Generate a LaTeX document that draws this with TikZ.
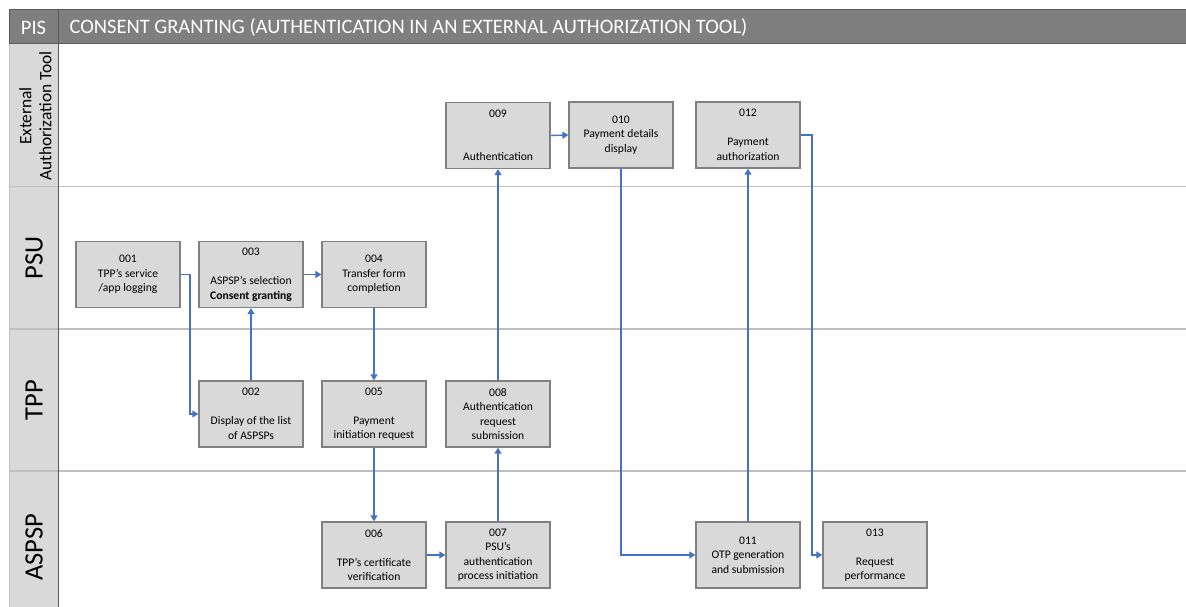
\documentclass[tikz,border=0pt]{standalone}
\usepackage{fontspec}
\setmainfont{Carlito}
\usetikzlibrary{arrows.meta}
\definecolor{hdr}{HTML}{7F7F7F}
\definecolor{hdrline}{HTML}{595959}
\definecolor{lanefill}{HTML}{D9D9D9}
\definecolor{laneline}{HTML}{BFBFBF}
\definecolor{boxfill}{HTML}{D9D9D9}
\definecolor{boxline}{HTML}{808080}
\definecolor{flow}{HTML}{4472C4}
\tikzset{
  stepbox/.style={draw=boxline, fill=boxfill, line width=1.3pt, minimum width=104pt, minimum height=66pt,
    inner sep=1pt, align=center, font=\fontsize{11.6}{14.5}\selectfont},
  flowarrow/.style={draw=flow, line width=1.4pt, -{Triangle[width=7pt,length=6pt]}},
  lanelabel/.style={rotate=90, font=\fontsize{26.5}{28}\selectfont},
  hdrtext/.style={text=white, font=\fontsize{20.5}{22}\selectfont}
}
\begin{document}
\begin{tikzpicture}[x=1pt, y=-1pt]
\useasboundingbox (0,0) rectangle (1186,607);
% header
\fill[hdr] (9,10) rectangle (1186,44);
\draw[hdrline, line width=1pt] (1186,10) -- (9,10) -- (9,44) -- (1186,44);
\draw[hdrline, line width=1pt] (58,10) -- (58,44);
\node[hdrtext] (pis) at (33.5,27.5) {PIS};
\node[hdrtext, anchor=west] (title) at (66,27.5) {CONSENT GRANTING (AUTHENTICATION IN AN EXTERNAL AUTHORIZATION TOOL)};
% lane label column
\fill[lanefill] (9,44) rectangle (58,607);
\draw[laneline, line width=1.5pt] (9,186.5) -- (1186,186.5);
\draw[laneline, line width=1.5pt] (9,329) -- (1186,329);
\draw[laneline, line width=1.5pt] (9,471) -- (1186,471);
\draw[hdrline, line width=1pt] (58,44) -- (58,607);
\draw[laneline, line width=1pt] (9,44) -- (9,607);
\node[rotate=90, align=center, font=\fontsize{17.4}{20}\selectfont] (lext) at (35.5,116) {External\\Authorization Tool};
\node[lanelabel] (lpsu) at (34,258) {PSU};
\node[lanelabel] (ltpp) at (34,400) {TPP};
\node[lanelabel] (laspsp) at (34,547) {ASPSP};
% boxes
\node[stepbox] (b001) at (128,274.5) {001\\TPP's service\\/app logging};
\node[stepbox] (b003) at (251,274.5) {003\\[14.5pt]ASPSP's selection\\\textbf{Consent granting}};
\node[stepbox] (b004) at (374,274.5) {004\\Transfer form\\completion};
\node[stepbox] (b002) at (251,414) {002\\[14.5pt]Display of the list\\of ASPSPs};
\node[stepbox] (b005) at (374,414) {005\\[14.5pt]Payment\\initiation request};
\node[stepbox] (b008) at (498,414) {008\\Authentication\\request\\submission};
\node[stepbox] (b006) at (374,555) {006\\[14.5pt]TPP's certificate\\verification};
\node[stepbox] (b007) at (498,555) {007\\PSU's\\authentication\\process initiation};
\node[stepbox] (b009) at (498,135.5) {009\\[29pt]Authentication};
\node[stepbox] (b010) at (621,135) {010\\Payment details\\display};
\node[stepbox] (b012) at (748,135) {012\\[14.5pt]Payment\\authorization};
\node[stepbox] (b011) at (748,555) {011\\OTP generation\\and submission};
\node[stepbox] (b013) at (875,555) {013\\[14.5pt]Request\\performance};
\coordinate (k1) at (190,0);
\coordinate (k2) at (812,0);
% connectors
\draw[flowarrow] (b001.east) -- (b001.east -| k1) |- (b002.west);
\draw[flowarrow] (b002.north) -- (b003.south);
\draw[flowarrow] (b003.east) -- (b004.west);
\draw[flowarrow] (b004.south) -- (b005.north);
\draw[flowarrow] (b005.south) -- (b006.north);
\draw[flowarrow] (b006.east) -- (b007.west);
\draw[flowarrow] (b007.north) -- (b008.south);
\draw[flowarrow] (b008.north) -- (b009.south);
\draw[flowarrow] (b009.east) -- (b010.west);
\draw[flowarrow] (b010.south) |- (b011.west);
\draw[flowarrow] (b011.north) -- (b012.south);
\draw[flowarrow] (b012.east) -- (b012.east -| k2) |- (b013.west);
\end{tikzpicture}
\end{document}
